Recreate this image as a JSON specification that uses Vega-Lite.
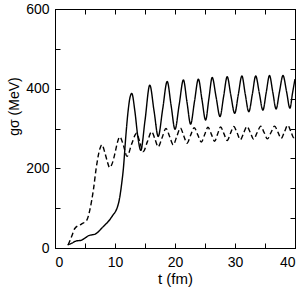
{
  "$schema": "https://vega.github.io/schema/vega-lite/v6.json",
  "autosize": "none",
  "padding": {"left": 55, "top": 9, "right": 9, "bottom": 41},
  "width": 240,
  "height": 239,
  "background": "white",
  "config": {
    "view": {"stroke": "black", "strokeWidth": 1},
    "axis": {"grid": false, "domainColor": "black", "tickColor": "black", "labelColor": "black", "titleColor": "black", "labelFont": "Liberation Sans", "titleFont": "Liberation Sans", "labelFontSize": 14, "titleFontWeight": "normal", "tickSize": -5, "tickWidth": 1}
  },
  "resolve": {"scale": {"y": "independent"}, "axis": {"x": "independent", "y": "independent"}},
  "layer": [
    {
      "data": {"values": [
        {"t": 2.1, "v": 8, "s": "solid"}, {"t": 2.8, "v": 12, "s": "solid"}, {"t": 3.6, "v": 18, "s": "solid"}, {"t": 4.3, "v": 19, "s": "solid"}, {"t": 5.0, "v": 25, "s": "solid"}, {"t": 5.6, "v": 31, "s": "solid"}, {"t": 6.7, "v": 35, "s": "solid"}, {"t": 8.0, "v": 53, "s": "solid"}, {"t": 9.4, "v": 77, "s": "solid"}, {"t": 10.6, "v": 113, "s": "solid"}, {"t": 11.1, "v": 160, "s": "solid"}, {"t": 11.4, "v": 200, "s": "solid"}, {"t": 11.8, "v": 280, "s": "solid"}, {"t": 12.2, "v": 346, "s": "solid"}, {"t": 12.5, "v": 378, "s": "solid"}, {"t": 12.8, "v": 388, "s": "solid"},
        {"t": 13.3, "v": 345, "s": "solid"}, {"t": 13.8, "v": 280, "s": "solid"}, {"t": 14.3, "v": 245, "s": "solid"}, {"t": 15.0, "v": 320, "s": "solid"}, {"t": 15.8, "v": 409, "s": "solid"},
        {"t": 16.5, "v": 345, "s": "solid"}, {"t": 17.2, "v": 280, "s": "solid"}, {"t": 17.95, "v": 349, "s": "solid"}, {"t": 18.7, "v": 418, "s": "solid"},
        {"t": 19.35, "v": 358, "s": "solid"}, {"t": 20.0, "v": 298, "s": "solid"}, {"t": 20.7, "v": 360, "s": "solid"}, {"t": 21.4, "v": 422, "s": "solid"},
        {"t": 22.0, "v": 366, "s": "solid"}, {"t": 22.6, "v": 311, "s": "solid"}, {"t": 23.25, "v": 368, "s": "solid"}, {"t": 23.9, "v": 424, "s": "solid"},
        {"t": 24.5, "v": 372, "s": "solid"}, {"t": 25.1, "v": 321, "s": "solid"}, {"t": 25.65, "v": 375, "s": "solid"}, {"t": 26.2, "v": 428, "s": "solid"},
        {"t": 26.85, "v": 379, "s": "solid"}, {"t": 27.5, "v": 330, "s": "solid"}, {"t": 28.1, "v": 380, "s": "solid"}, {"t": 28.7, "v": 430, "s": "solid"},
        {"t": 29.3, "v": 384, "s": "solid"}, {"t": 29.95, "v": 338, "s": "solid"}, {"t": 30.55, "v": 385, "s": "solid"}, {"t": 31.15, "v": 432, "s": "solid"},
        {"t": 31.7, "v": 387, "s": "solid"}, {"t": 32.3, "v": 342, "s": "solid"}, {"t": 32.9, "v": 387, "s": "solid"}, {"t": 33.45, "v": 432, "s": "solid"},
        {"t": 34.05, "v": 389, "s": "solid"}, {"t": 34.65, "v": 346, "s": "solid"}, {"t": 35.2, "v": 390, "s": "solid"}, {"t": 35.75, "v": 433, "s": "solid"},
        {"t": 36.3, "v": 391, "s": "solid"}, {"t": 36.85, "v": 349, "s": "solid"}, {"t": 37.4, "v": 391, "s": "solid"}, {"t": 38.0, "v": 433, "s": "solid"},
        {"t": 38.6, "v": 392, "s": "solid"}, {"t": 39.15, "v": 351, "s": "solid"}, {"t": 39.6, "v": 390, "s": "solid"}, {"t": 40.0, "v": 424, "s": "solid"},
        {"t": 2.2, "v": 8, "s": "dashed"}, {"t": 2.8, "v": 30, "s": "dashed"}, {"t": 3.3, "v": 49, "s": "dashed"}, {"t": 4.4, "v": 60, "s": "dashed"}, {"t": 5.3, "v": 70, "s": "dashed"}, {"t": 5.8, "v": 95, "s": "dashed"}, {"t": 6.4, "v": 146, "s": "dashed"}, {"t": 6.9, "v": 204, "s": "dashed"}, {"t": 7.5, "v": 250, "s": "dashed"}, {"t": 7.8, "v": 259, "s": "dashed"},
        {"t": 8.3, "v": 240, "s": "dashed"}, {"t": 8.7, "v": 218, "s": "dashed"}, {"t": 9.1, "v": 202, "s": "dashed"}, {"t": 9.6, "v": 215, "s": "dashed"}, {"t": 10.0, "v": 238, "s": "dashed"}, {"t": 10.4, "v": 265, "s": "dashed"}, {"t": 10.8, "v": 279, "s": "dashed"},
        {"t": 11.4, "v": 258, "s": "dashed"}, {"t": 12.0, "v": 230, "s": "dashed"}, {"t": 12.8, "v": 262, "s": "dashed"}, {"t": 13.6, "v": 288, "s": "dashed"},
        {"t": 14.15, "v": 265, "s": "dashed"}, {"t": 14.7, "v": 242, "s": "dashed"}, {"t": 15.4, "v": 267, "s": "dashed"}, {"t": 16.1, "v": 292, "s": "dashed"},
        {"t": 16.65, "v": 274, "s": "dashed"}, {"t": 17.2, "v": 254, "s": "dashed"}, {"t": 17.85, "v": 277, "s": "dashed"}, {"t": 18.5, "v": 300, "s": "dashed"},
        {"t": 19.1, "v": 280, "s": "dashed"}, {"t": 19.7, "v": 259, "s": "dashed"}, {"t": 20.3, "v": 280, "s": "dashed"}, {"t": 20.9, "v": 301, "s": "dashed"},
        {"t": 21.45, "v": 282, "s": "dashed"}, {"t": 22.0, "v": 263, "s": "dashed"}, {"t": 22.6, "v": 283, "s": "dashed"}, {"t": 23.2, "v": 302, "s": "dashed"},
        {"t": 23.8, "v": 284, "s": "dashed"}, {"t": 24.4, "v": 266, "s": "dashed"}, {"t": 24.95, "v": 285, "s": "dashed"}, {"t": 25.5, "v": 303, "s": "dashed"},
        {"t": 26.05, "v": 286, "s": "dashed"}, {"t": 26.6, "v": 268, "s": "dashed"}, {"t": 27.1, "v": 286, "s": "dashed"}, {"t": 27.6, "v": 304, "s": "dashed"},
        {"t": 28.15, "v": 287, "s": "dashed"}, {"t": 28.7, "v": 270, "s": "dashed"}, {"t": 29.25, "v": 288, "s": "dashed"}, {"t": 29.8, "v": 305, "s": "dashed"},
        {"t": 30.35, "v": 289, "s": "dashed"}, {"t": 30.9, "v": 272, "s": "dashed"}, {"t": 31.45, "v": 289, "s": "dashed"}, {"t": 32.0, "v": 305, "s": "dashed"},
        {"t": 32.55, "v": 290, "s": "dashed"}, {"t": 33.1, "v": 273, "s": "dashed"}, {"t": 33.7, "v": 290, "s": "dashed"}, {"t": 34.3, "v": 306, "s": "dashed"},
        {"t": 34.85, "v": 290, "s": "dashed"}, {"t": 35.4, "v": 274, "s": "dashed"}, {"t": 36.0, "v": 290, "s": "dashed"}, {"t": 36.6, "v": 306, "s": "dashed"},
        {"t": 37.15, "v": 291, "s": "dashed"}, {"t": 37.7, "v": 275, "s": "dashed"}, {"t": 38.25, "v": 292, "s": "dashed"}, {"t": 38.8, "v": 308, "s": "dashed"},
        {"t": 39.3, "v": 293, "s": "dashed"}, {"t": 39.8, "v": 277, "s": "dashed"}, {"t": 40.0, "v": 282, "s": "dashed"}
      ]},
      "mark": {"type": "line", "interpolate": "monotone", "color": "black", "strokeWidth": 1.4, "clip": true},
      "encoding": {
        "x": {"field": "t", "type": "quantitative", "scale": {"domain": [0, 40], "nice": false},
          "axis": {"orient": "bottom", "values": [0, 5, 10, 15, 20, 25, 30, 35, 40], "labelExpr": "datum.value % 10 === 0 ? datum.label : ''", "labelPadding": 12, "title": "t (fm)", "titleFontSize": 15, "titlePadding": 2}},
        "y": {"field": "v", "type": "quantitative", "scale": {"domain": [0, 600], "nice": false},
          "axis": {"orient": "left", "values": [0, 100, 200, 300, 400, 500, 600], "labelExpr": "datum.value % 200 === 0 ? datum.label : ''", "labelPadding": 11, "title": "gσ (MeV)", "titleFontSize": 14, "titleAngle": 270, "titleAlign": "center", "titleBaseline": "middle", "titleX": -41, "titleY": 97}},
        "strokeDash": {"field": "s", "type": "nominal", "scale": {"domain": ["solid", "dashed"], "range": [[1, 0], [5, 3]]}, "legend": null}
      }
    },
    {
      "data": {"values": [{"t": 0, "r": 0}, {"t": 40, "r": 8}]},
      "mark": {"type": "point", "opacity": 0},
      "encoding": {
        "x": {"field": "t", "type": "quantitative", "scale": {"domain": [0, 40], "nice": false},
          "axis": {"orient": "top", "values": [0, 5, 10, 15, 20, 25, 30, 35, 40], "labels": false, "title": null}},
        "y": {"field": "r", "type": "quantitative", "scale": {"domain": [0, 8], "nice": false},
          "axis": {"orient": "right", "values": [0, 1, 2, 3, 4, 5, 6, 7, 8], "labels": false, "title": null}}
      }
    }
  ]
}
